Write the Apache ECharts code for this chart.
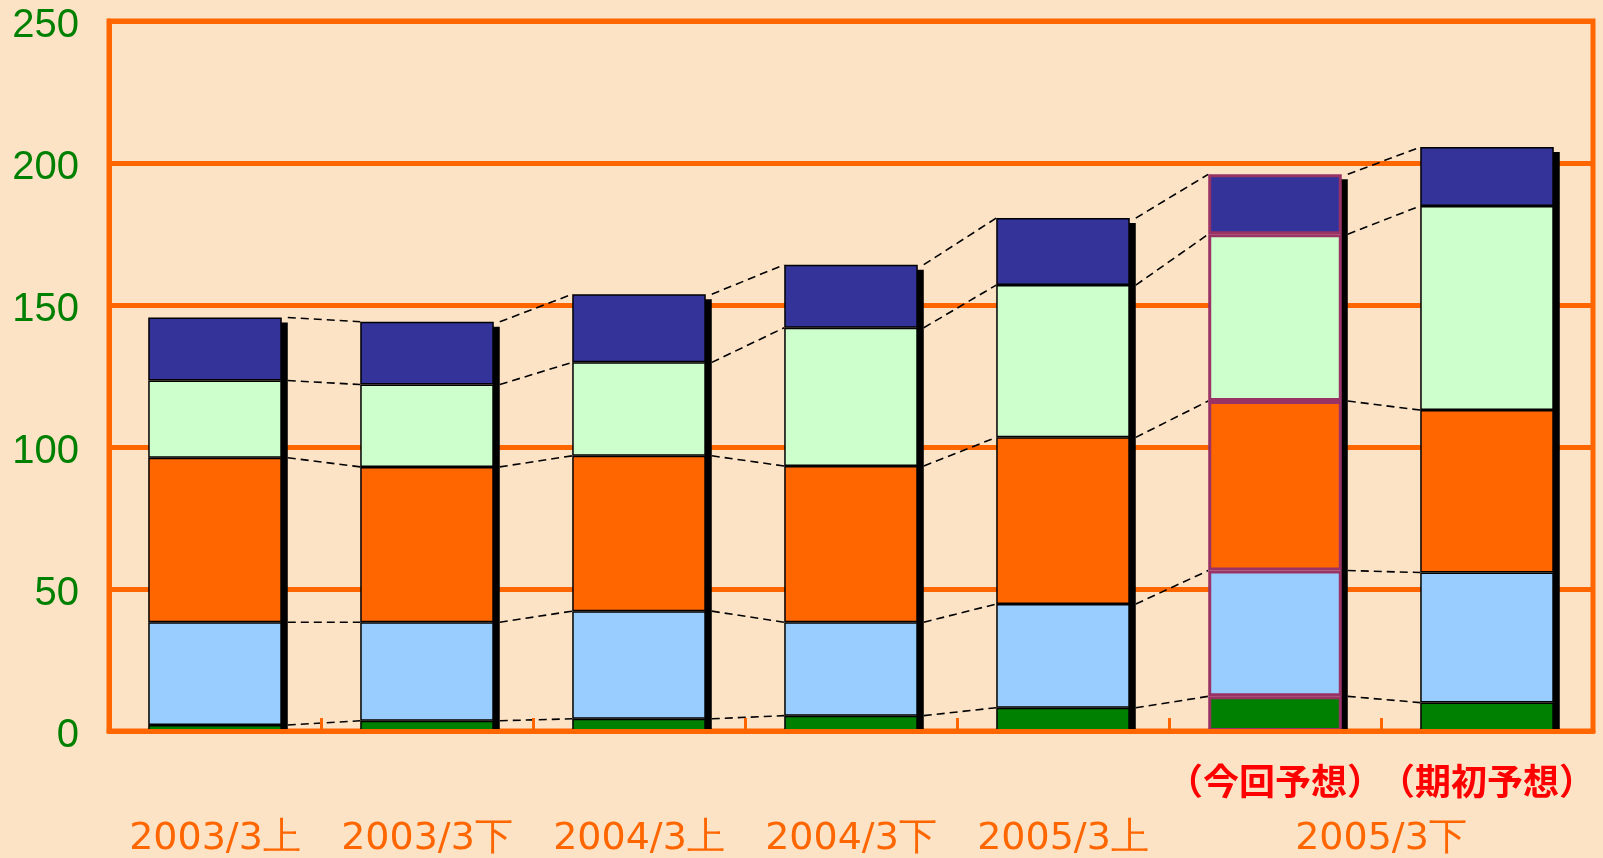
<!DOCTYPE html>
<html lang="ja">
<head>
    <meta charset="UTF-8">
    <title>chart</title>
    <script src="https://cdn.jsdelivr.net/npm/echarts@6/dist/echarts.min.js"></script>
    <style>
        html, body { margin: 0; padding: 0; }
        #main, #main canvas { text-spacing-trim: space-all; }
    </style>
</head>
<body>
<div id="main" style="width: 1603px;height:858px;"></div>
<script>
    // categories (bars)
    var cats = ['2003/3上', '2003/3下', '2004/3上', '2004/3下', '2005/3上', '（今回予想）', '（期初予想）'];
    // bottom line labels (value positions on helper axis)
    var periodLabels = {'0.5': '2003/3上', '1.5': '2003/3下', '2.5': '2004/3上', '3.5': '2004/3下', '4.5': '2005/3上', '6': '2005/3下'};

    // segment values, bottom to top
    var seg1 = [2.1, 3.6, 4.3, 5.4, 8.2, 12.2, 10.0];
    var seg2 = [36.2, 34.7, 37.9, 32.9, 36.5, 44.3, 45.8];
    var seg3 = [57.9, 54.7, 54.7, 55.0, 58.7, 59.7, 57.2];
    var seg4 = [27.2, 29.0, 32.9, 48.7, 53.6, 58.7, 71.9];
    var seg5 = [22.2, 22.1, 24.0, 22.2, 23.6, 21.1, 20.7];

    var segColors = ['#008000', '#99CCFF', '#FF6600', '#CCFFCC', '#333399'];

    var myChart = echarts.init(document.getElementById('main'));
    var segs = [seg1, seg2, seg3, seg4, seg5];
    var barW = 0.63;
    var shadowW = 6;

    // cumulative tops for the dashed series lines
    var cum = [];
    var run = cats.map(function () { return 0; });
    segs.forEach(function (s) {
        run = run.map(function (v, i) { return v + s[i]; });
        cum.push(run.slice());
    });
    var lineData = [];
    for (var i = 0; i < cats.length - 1; i++) {
        for (var k = 0; k < cum.length; k++) {
            lineData.push([i, cum[k][i], cum[k][i + 1]]);
        }
    }
    var totalData = cum[cum.length - 1].map(function (v, i) { return [i, v]; });

    var series = [];

    // black drop shadow strip on the right of each bar
    series.push({
        type: 'custom',
        data: totalData,
        encode: {x: 0, y: 1},
        silent: true,
        z: 1,
        renderItem: function (params, api) {
            var p = api.coord([api.value(0), api.value(1)]);
            var b = api.coord([api.value(0), 0]);
            var hw = api.size([1, 0])[0] * barW / 2;
            return {
                type: 'rect',
                shape: {x: p[0] + hw - 1, y: p[1] + 5, width: shadowW + 1, height: b[1] - p[1] - 5},
                style: {fill: '#000'}
            };
        }
    });

    segs.forEach(function (s, k) {
        series.push({
            type: 'bar',
            stack: 'all',
            barWidth: (barW * 100) + '%',
            z: 2,
            data: s.map(function (v, i) {
                var it = {value: v};
                if (i === 5) {
                    it.itemStyle = {borderColor: '#993366', borderWidth: 3};
                }
                return it;
            }),
            itemStyle: {
                color: segColors[k],
                borderColor: '#000',
                borderWidth: 1.5
            },
            emphasis: {disabled: true}
        });
    });

    // dashed series lines between neighbouring bars
    series.push({
        type: 'custom',
        data: lineData,
        encode: {x: 0, y: 1},
        silent: true,
        z: 1,
        renderItem: function (params, api) {
            var i = api.value(0);
            var p1 = api.coord([i, api.value(1)]);
            var p2 = api.coord([i + 1, api.value(2)]);
            var hw = api.size([1, 0])[0] * barW / 2;
            return {
                type: 'line',
                shape: {x1: p1[0] + hw + shadowW, y1: p1[1], x2: p2[0] - hw, y2: p2[1]},
                style: {stroke: '#000', lineWidth: 1.6, lineDash: [8, 5]}
            };
        }
    });

    var option = {
        backgroundColor: '#FCE3C6',
        animation: false,
        grid: {
            left: 109, right: 10, top: 21, bottom: 124,
            show: true,
            borderColor: '#FF6600',
            borderWidth: 5
        },
        xAxis: [{
            type: 'category',
            data: cats,
            z: 5,
            axisLine: {lineStyle: {color: '#FF6600', width: 5}},
            axisTick: {show: true, interval: 0, inside: true, length: 13, lineStyle: {color: '#FF6600', width: 3}},
            axisLabel: {
                interval: 0,
                margin: 32,
                color: '#FF0000',
                fontSize: 36,
                fontWeight: 'bold',
                fontFamily: 'Noto Sans CJK JP',
                formatter: function (v, idx) { return idx >= 5 ? v : ''; }
            }
        }, {
            type: 'value',
            min: 0,
            max: 7,
            interval: 0.5,
            position: 'bottom',
            axisLine: {show: false},
            axisTick: {show: false},
            splitLine: {show: false},
            axisLabel: {
                margin: 89,
                color: '#FF6600',
                fontSize: 38,
                fontFamily: 'DejaVu Sans',
                showMinLabel: true,
                showMaxLabel: true,
                formatter: function (v) { return periodLabels[String(v)] || ''; }
            }
        }],
        yAxis: {
            type: 'value',
            min: 0,
            max: 250,
            interval: 50,
            axisLine: {show: true, lineStyle: {color: '#FF6600', width: 5}},
            axisTick: {show: false},
            splitLine: {lineStyle: {color: '#FF6600', width: 5}},
            axisLabel: {
                margin: 30,
                formatter: function (v) { return '{n|' + v + '}'; },
                rich: {
                    n: {
                        padding: [10, 0, 0, 0],
                        color: '#008000',
                        fontSize: 40,
                        fontFamily: 'Liberation Sans'
                    }
                }
            }
        },
        series: series
    };
    myChart.setOption(option);
</script>
</body>
</html>
